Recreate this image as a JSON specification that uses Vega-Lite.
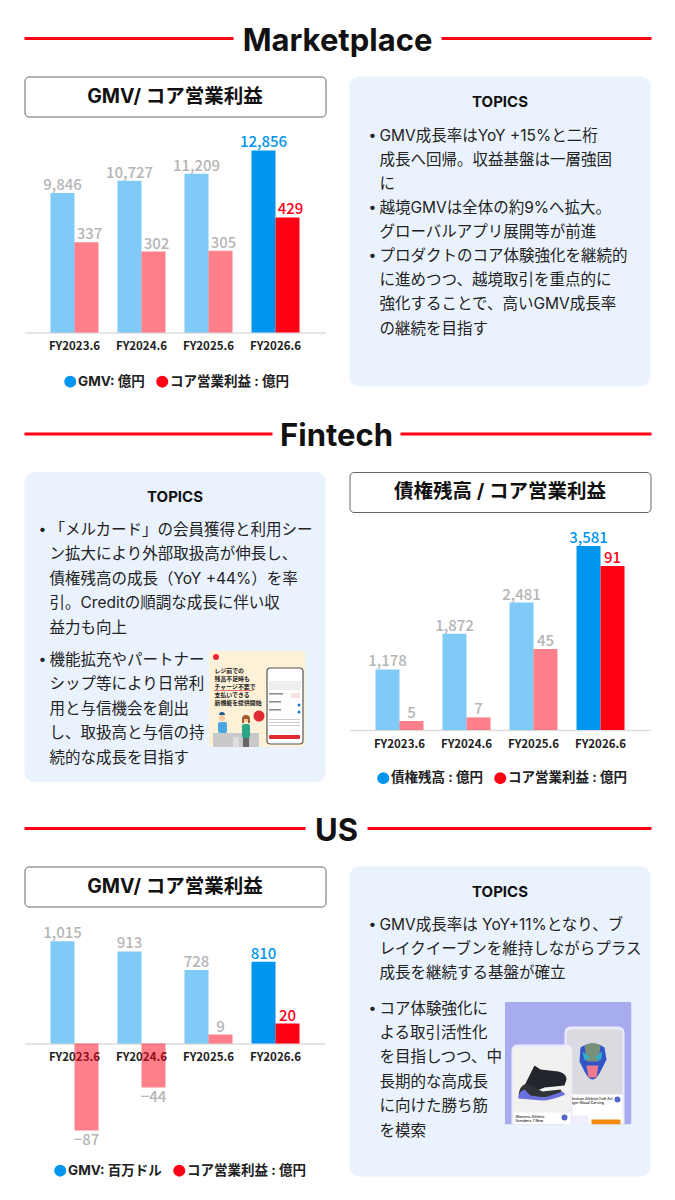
{
  "$schema": "https://vega.github.io/schema/vega-lite/v6.json",
  "background": "#ffffff",
  "padding": {"left": 22.5, "top": 18.5, "right": 0, "bottom": 0},
  "config": {
    "font": "Inter, Noto Sans CJK JP",
    "view": {"stroke": null},
    "legend": {"orient": "none", "direction": "horizontal", "title": null, "symbolType": "circle", "symbolSize": 144, "symbolStrokeWidth": 0, "labelFont": "Inter, Noto Sans CJK JP", "labelFontSize": 13.5, "labelFontWeight": 700, "labelColor": "#222222", "labelOffset": 1, "columnPadding": 10, "padding": 0},
    "axisX": {"title": null, "domainColor": "#dddddd", "domainWidth": 1.5, "ticks": false, "labelFont": "Noto Sans CJK JP", "labelFontSize": 11.5, "labelFontWeight": 700, "labelColor": "#222222", "labelAngle": 0, "labelPadding": 8, "zindex": 1}
  },
  "spacing": 23,
  "resolve": {"scale": {"color": "independent"}, "legend": {"color": "independent"}},
  "vconcat": [
    {
      "spacing": 25.5,
      "resolve": {"scale": {"color": "independent"}, "legend": {"color": "independent"}},
      "vconcat": [
        {
          "spacing": 17,
          "resolve": {"scale": {"color": "independent"}, "legend": {"color": "independent"}},
          "vconcat": [
            {
              "bounds": "flush",
              "spacing": 0,
              "data": {"values": [{"section": "Marketplace"}]},
              "hconcat": [
                {"width": 209, "height": 40, "mark": {"type": "rule", "color": "#ff0015", "strokeWidth": 3}, "encoding": {"y": {"datum": 0, "type": "quantitative", "scale": {"domain": [-1, 1]}, "axis": null}}},
                {"width": 208, "height": 40, "mark": {"type": "text", "fontSize": 31, "fontWeight": 700, "color": "#111111", "dy": 3}, "encoding": {"text": {"field": "section"}}},
                {"width": 210, "height": 40, "mark": {"type": "rule", "color": "#ff0015", "strokeWidth": 3}, "encoding": {"y": {"datum": 0, "type": "quantitative", "scale": {"domain": [-1, 1]}, "axis": null}}}
              ]
            },
            {
              "spacing": 23,
              "resolve": {"scale": {"color": "independent"}, "legend": {"color": "independent"}},
              "hconcat": [
                {
                  "bounds": "flush",
                  "spacing": 16,
                  "resolve": {"scale": {"color": "independent"}, "legend": {"color": "independent"}},
                  "vconcat": [
                    {
                      "width": 301, "height": 40,
                      "view": {"stroke": "#666666", "cornerRadius": 4, "fill": "#ffffff"},
                      "data": {"values": [{"label": "GMV/ コア営業利益"}]},
                      "mark": {"type": "text", "fontSize": 19.5, "fontWeight": 700, "color": "#111111"},
                      "encoding": {"text": {"field": "label"}}
                    },
                    {
                      "width": 301, "height": 200,
                      "data": {"values": [
                        {"fy": "FY2023.6", "metric": "GMV: 億円", "value": 9846},
                        {"fy": "FY2024.6", "metric": "GMV: 億円", "value": 10727},
                        {"fy": "FY2025.6", "metric": "GMV: 億円", "value": 11209},
                        {"fy": "FY2026.6", "metric": "GMV: 億円", "value": 12856},
                        {"fy": "FY2023.6", "metric": "コア営業利益 : 億円", "value": 337},
                        {"fy": "FY2024.6", "metric": "コア営業利益 : 億円", "value": 302},
                        {"fy": "FY2025.6", "metric": "コア営業利益 : 億円", "value": 305},
                        {"fy": "FY2026.6", "metric": "コア営業利益 : 億円", "value": 429}
                      ]},
                      "encoding": {
                        "x": {"field": "fy", "type": "nominal", "scale": {"paddingInner": 0, "paddingOuter": 0.246}}
                      },
                      "resolve": {"scale": {"y": "independent"}},
                      "layer": [
                        {
                          "transform": [{"filter": "datum.metric === 'GMV: 億円'"}],
                          "mark": {"type": "bar", "width": 24, "xOffset": -12},
                          "encoding": {
                            "y": {"field": "value", "type": "quantitative", "axis": null, "scale": {"domain": [0, 14127], "nice": false}},
                            "color": {"field": "metric", "type": "nominal", "scale": {"domain": ["GMV: 億円", "コア営業利益 : 億円"], "range": ["#0095ee", "#ff0015"]}, "legend": {"legendX": 39, "legendY": 242}},
                            "opacity": {"condition": {"test": "datum.fy === 'FY2026.6'", "value": 1}, "value": 0.5}
                          }
                        },
                        {
                          "transform": [{"filter": "datum.metric !== 'GMV: 億円'"}],
                          "mark": {"type": "bar", "width": 24, "xOffset": 12},
                          "encoding": {
                            "y": {"field": "value", "type": "quantitative", "axis": null, "scale": {"domain": [0, 746], "nice": false}},
                            "color": {"field": "metric", "type": "nominal", "scale": {"domain": ["GMV: 億円", "コア営業利益 : 億円"], "range": ["#0095ee", "#ff0015"]}, "legend": {"legendX": 39, "legendY": 242}},
                            "opacity": {"condition": {"test": "datum.fy === 'FY2026.6'", "value": 1}, "value": 0.5}
                          }
                        },
                        {
                          "transform": [{"filter": "datum.metric === 'GMV: 億円'"}],
                          "mark": {"type": "text", "font": "Noto Sans CJK JP", "baseline": "bottom", "fontSize": 15, "fontWeight": 500, "dy": 0, "xOffset": -12},
                          "encoding": {
                            "y": {"field": "value", "type": "quantitative", "axis": null, "scale": {"domain": [0, 14127], "nice": false}},
                            "text": {"field": "value", "type": "quantitative", "format": ","},
                            "color": {"condition": {"test": "datum.fy === 'FY2026.6'", "value": "#0095ee"}, "value": "#b5b5b5"}
                          }
                        },
                        {
                          "transform": [{"filter": "datum.metric !== 'GMV: 億円'"}],
                          "mark": {"type": "text", "font": "Noto Sans CJK JP", "baseline": "bottom", "fontSize": 15, "fontWeight": 500, "dy": 0, "xOffset": 15},
                          "encoding": {
                            "y": {"field": "value", "type": "quantitative", "axis": null, "scale": {"domain": [0, 746], "nice": false}},
                            "text": {"field": "value", "type": "quantitative", "format": ","},
                            "color": {"condition": {"test": "datum.fy === 'FY2026.6'", "value": "#ff0015"}, "value": "#b5b5b5"}
                          }
                        }
                      ]
                    }
                  ]
                },
                {
                  "width": 301, "height": 310,
                  "view": {"fill": "#eaf2fe", "cornerRadius": 10, "stroke": null},
                  "resolve": {"scale": {"x": "independent", "y": "independent"}},
                  "layer": [
                    {
                      "data": {"values": [{"label": "TOPICS"}]},
                      "mark": {"type": "text", "fontSize": 15, "fontWeight": 700, "color": "#111111"},
                      "encoding": {
                        "y": {"field": "label", "type": "nominal", "axis": null, "scale": {"type": "point", "domain": ["TOPICS"], "range": [25, 25]}},
                        "text": {"field": "label"}
                      }
                    },
                    {
                      "data": {"values": [
                        {"line": 1, "bullet": "•", "text": "GMV成長率はYoY +15%と二桁"},
                        {"line": 2, "bullet": "", "text": "成長へ回帰。収益基盤は一層強固"},
                        {"line": 3, "bullet": "", "text": "に"},
                        {"line": 4, "bullet": "•", "text": "越境GMVは全体の約9%へ拡大。"},
                        {"line": 5, "bullet": "", "text": "グローバルアプリ展開等が前進"},
                        {"line": 6, "bullet": "•", "text": "プロダクトのコア体験強化を継続的"},
                        {"line": 7, "bullet": "", "text": "に進めつつ、越境取引を重点的に"},
                        {"line": 8, "bullet": "", "text": "強化することで、高いGMV成長率"},
                        {"line": 9, "bullet": "", "text": "の継続を目指す"}
                      ]},
                      "resolve": {"scale": {"x": "independent"}},
                      "layer": [
                        {
                          "mark": {"type": "text", "align": "center", "fontSize": 14, "color": "#222222"},
                          "encoding": {
                            "x": {"datum": "bullet", "type": "nominal", "axis": null, "scale": {"type": "point", "domain": ["bullet"], "range": [23, 23]}},
                            "y": {"field": "line", "type": "ordinal", "axis": null, "scale": {"type": "point", "padding": 0, "range": [59, 252]}},
                            "text": {"field": "bullet"}
                          }
                        },
                        {
                          "mark": {"type": "text", "align": "left", "fontSize": 15.5, "color": "#222222"},
                          "encoding": {
                            "x": {"datum": "text", "type": "nominal", "axis": null, "scale": {"type": "point", "domain": ["text"], "range": [30, 30]}},
                            "y": {"field": "line", "type": "ordinal", "axis": null, "scale": {"type": "point", "padding": 0, "range": [59, 252]}},
                            "text": {"field": "text"}
                          }
                        }
                      ]
                    }
                  ]
                }
              ]
            }
          ]
        },
        {
          "spacing": 17,
          "resolve": {"scale": {"color": "independent"}, "legend": {"color": "independent"}},
          "vconcat": [
            {
              "bounds": "flush",
              "spacing": 0,
              "data": {"values": [{"section": "Fintech"}]},
              "hconcat": [
                {"width": 248, "height": 40, "mark": {"type": "rule", "color": "#ff0015", "strokeWidth": 3}, "encoding": {"y": {"datum": 0, "type": "quantitative", "scale": {"domain": [-1, 1]}, "axis": null}}},
                {"width": 128, "height": 40, "mark": {"type": "text", "fontSize": 31, "fontWeight": 700, "color": "#111111", "dy": 3}, "encoding": {"text": {"field": "section"}}},
                {"width": 251, "height": 40, "mark": {"type": "rule", "color": "#ff0015", "strokeWidth": 3}, "encoding": {"y": {"datum": 0, "type": "quantitative", "scale": {"domain": [-1, 1]}, "axis": null}}}
              ]
            },
            {
              "spacing": 23,
              "resolve": {"scale": {"color": "independent"}, "legend": {"color": "independent"}},
              "hconcat": [
                {
                  "width": 301, "height": 310,
                  "view": {"fill": "#eaf2fe", "cornerRadius": 10, "stroke": null},
                  "resolve": {"scale": {"x": "independent", "y": "independent"}},
                  "layer": [
                    {
                      "data": {"values": [{"label": "TOPICS"}]},
                      "mark": {"type": "text", "fontSize": 15, "fontWeight": 700, "color": "#111111"},
                      "encoding": {
                        "y": {"field": "label", "type": "nominal", "axis": null, "scale": {"type": "point", "domain": ["TOPICS"], "range": [25, 25]}},
                        "text": {"field": "label"}
                      }
                    },
                    {
                      "data": {"values": [
                        {"topic": 1, "bullet": "•", "text": "「メルカード」の会員獲得と利用シー\nン拡大により外部取扱高が伸長し、\n債権残高の成長（YoY +44%）を率\n引。Creditの順調な成長に伴い収\n益力も向上"},
                        {"topic": 2, "bullet": "•", "text": "機能拡充やパートナー\nシップ等により日常利\n用と与信機会を創出\nし、取扱高と与信の持\n続的な成長を目指す"}
                      ]},
                      "resolve": {"scale": {"x": "independent"}},
                      "layer": [
                        {
                          "mark": {"type": "text", "align": "center", "baseline": "top", "fontSize": 14, "color": "#222222"},
                          "encoding": {
                            "x": {"datum": "bullet", "type": "nominal", "axis": null, "scale": {"type": "point", "domain": ["bullet"], "range": [18, 18]}},
                            "y": {"field": "topic", "type": "ordinal", "axis": null, "scale": {"type": "point", "padding": 0, "range": [51, 181]}},
                            "text": {"field": "bullet"}
                          }
                        },
                        {
                          "mark": {"type": "text", "align": "left", "baseline": "top", "fontSize": 15.5, "lineBreak": "\n", "lineHeight": 24.4, "color": "#222222"},
                          "encoding": {
                            "x": {"datum": "text", "type": "nominal", "axis": null, "scale": {"type": "point", "domain": ["text"], "range": [25, 25]}},
                            "y": {"field": "topic", "type": "ordinal", "axis": null, "scale": {"type": "point", "padding": 0, "range": [51, 181]}},
                            "text": {"field": "text"}
                          }
                        }
                      ]
                    },
                    {
                      "data": {"values": [{"picture": "mercard", "url": "data:image/svg+xml;utf8,<svg xmlns='http://www.w3.org/2000/svg' viewBox='0 0 96 96' width='96' height='96'><rect width='96' height='96' rx='2' fill='%23fdf1d8'/><circle cx='7' cy='6' r='3' fill='%23ee2233'/><rect x='5' y='39' width='39' height='0.8' fill='%23e85050'/><rect x='4' y='82' width='46' height='14' fill='%23c9c9c9'/><rect x='24' y='86' width='6' height='10' fill='%23dddddd'/><circle cx='13' cy='67' r='3' fill='%23f4c7a0'/><path d='M10 64 a3 3 0 0 1 6 0 z' fill='%23225a88'/><rect x='9' y='71' width='9' height='11' rx='2' fill='%234aa6e0'/><circle cx='37' cy='68' r='3.2' fill='%23f4c7a0'/><path d='M33 68 a4 4 0 0 1 8 0 l0 4 l-2 0 l0 -4 l-4 0 l0 4 l-2 0 z' fill='%23a05a30'/><rect x='33' y='73' width='8' height='14' rx='2' fill='%232aa58a'/><rect x='34' y='87' width='6' height='9' fill='%23666666'/><circle cx='50' cy='65' r='5.5' fill='%23e22a33'/><rect x='58' y='17' width='36' height='76' rx='3.5' fill='%23ffffff' stroke='%23555555' stroke-width='1.2'/><rect x='60' y='30' width='32' height='9' fill='%23eeeeee'/><rect x='60' y='42' width='14' height='1.5' fill='%23888888'/><rect x='82' y='42' width='9' height='5' fill='%23fbe0e0'/><rect x='60' y='50' width='12' height='1.5' fill='%23888888'/><circle cx='90' cy='54' r='1.5' fill='%232277cc'/><rect x='60' y='58' width='12' height='1.5' fill='%23888888'/><circle cx='90' cy='61' r='1.5' fill='%232277cc'/><rect x='60' y='68' width='31' height='1' fill='%23cccccc'/><rect x='60' y='71' width='31' height='1' fill='%23cccccc'/><rect x='60' y='74' width='31' height='1' fill='%23cccccc'/><rect x='60' y='84' width='31' height='4' rx='1' fill='%23e22a33'/></svg>"}]},
                      "mark": {"type": "image", "width": 96, "height": 96, "aspect": false},
                      "encoding": {
                        "x": {"field": "picture", "type": "nominal", "axis": null, "scale": {"type": "point", "domain": ["mercard"], "range": [232.5, 232.5]}},
                        "y": {"field": "picture", "type": "nominal", "axis": null, "scale": {"type": "point", "domain": ["mercard"], "range": [227, 227]}},
                        "url": {"field": "url", "type": "nominal"}
                      }
                    },
                    {
                      "data": {"values": [{"caption": "レジ前での\n残高不足時も\nチャージ不要で\n支払いできる\n新機能を提供開始"}]},
                      "mark": {"type": "text", "align": "left", "baseline": "top", "fontSize": 5.9, "fontWeight": 700, "lineBreak": "\n", "lineHeight": 8.1, "color": "#222222"},
                      "encoding": {
                        "x": {"field": "caption", "type": "nominal", "axis": null, "scale": {"type": "point", "range": [190, 190]}},
                        "y": {"field": "caption", "type": "nominal", "axis": null, "scale": {"type": "point", "range": [195.5, 195.5]}},
                        "text": {"field": "caption"}
                      }
                    }
                  ]
                },
                {
                  "bounds": "flush",
                  "spacing": 16,
                  "resolve": {"scale": {"color": "independent"}, "legend": {"color": "independent"}},
                  "vconcat": [
                    {
                      "width": 301, "height": 40,
                      "view": {"stroke": "#666666", "cornerRadius": 4, "fill": "#ffffff"},
                      "data": {"values": [{"label": "債権残高 / コア営業利益"}]},
                      "mark": {"type": "text", "fontSize": 19.5, "fontWeight": 700, "color": "#111111"},
                      "encoding": {"text": {"field": "label"}}
                    },
                    {
                      "width": 301, "height": 202,
                      "data": {"values": [
                        {"fy": "FY2023.6", "metric": "債権残高 : 億円", "value": 1178},
                        {"fy": "FY2024.6", "metric": "債権残高 : 億円", "value": 1872},
                        {"fy": "FY2025.6", "metric": "債権残高 : 億円", "value": 2481},
                        {"fy": "FY2026.6", "metric": "債権残高 : 億円", "value": 3581},
                        {"fy": "FY2023.6", "metric": "コア営業利益 : 億円", "value": 5},
                        {"fy": "FY2024.6", "metric": "コア営業利益 : 億円", "value": 7},
                        {"fy": "FY2025.6", "metric": "コア営業利益 : 億円", "value": 45},
                        {"fy": "FY2026.6", "metric": "コア営業利益 : 億円", "value": 91}
                      ]},
                      "encoding": {
                        "x": {"field": "fy", "type": "nominal", "scale": {"paddingInner": 0, "paddingOuter": 0.246}}
                      },
                      "resolve": {"scale": {"y": "independent"}},
                      "layer": [
                        {
                          "transform": [{"filter": "datum.metric === '債権残高 : 億円'"}],
                          "mark": {"type": "bar", "width": 24, "xOffset": -12},
                          "encoding": {
                            "y": {"field": "value", "type": "quantitative", "axis": null, "scale": {"domain": [0, 3931], "nice": false}},
                            "color": {"field": "metric", "type": "nominal", "scale": {"domain": ["債権残高 : 億円", "コア営業利益 : 億円"], "range": ["#0095ee", "#ff0015"]}, "legend": {"legendX": 27, "legendY": 243}},
                            "opacity": {"condition": {"test": "datum.fy === 'FY2026.6'", "value": 1}, "value": 0.5}
                          }
                        },
                        {
                          "transform": [{"filter": "datum.metric !== '債権残高 : 億円'"}],
                          "mark": {"type": "bar", "width": 24, "xOffset": 12},
                          "encoding": {
                            "y": {"field": "value", "type": "quantitative", "axis": null, "scale": {"domain": [0, 112.1], "nice": false}},
                            "color": {"field": "metric", "type": "nominal", "scale": {"domain": ["債権残高 : 億円", "コア営業利益 : 億円"], "range": ["#0095ee", "#ff0015"]}, "legend": {"legendX": 27, "legendY": 243}},
                            "opacity": {"condition": {"test": "datum.fy === 'FY2026.6'", "value": 1}, "value": 0.5}
                          }
                        },
                        {
                          "transform": [{"filter": "datum.metric === '債権残高 : 億円'"}],
                          "mark": {"type": "text", "font": "Noto Sans CJK JP", "baseline": "bottom", "fontSize": 15, "fontWeight": 500, "dy": 0, "xOffset": -12},
                          "encoding": {
                            "y": {"field": "value", "type": "quantitative", "axis": null, "scale": {"domain": [0, 3931], "nice": false}},
                            "text": {"field": "value", "type": "quantitative", "format": ","},
                            "color": {"condition": {"test": "datum.fy === 'FY2026.6'", "value": "#0095ee"}, "value": "#b5b5b5"}
                          }
                        },
                        {
                          "transform": [{"filter": "datum.metric !== '債権残高 : 億円'"}],
                          "mark": {"type": "text", "font": "Noto Sans CJK JP", "baseline": "bottom", "fontSize": 15, "fontWeight": 500, "dy": 0, "xOffset": 12},
                          "encoding": {
                            "y": {"field": "value", "type": "quantitative", "axis": null, "scale": {"domain": [0, 112.1], "nice": false}},
                            "text": {"field": "value", "type": "quantitative", "format": ","},
                            "color": {"condition": {"test": "datum.fy === 'FY2026.6'", "value": "#ff0015"}, "value": "#b5b5b5"}
                          }
                        }
                      ]
                    }
                  ]
                }
              ]
            }
          ]
        }
      ]
    },
    {
      "spacing": 17,
      "resolve": {"scale": {"color": "independent"}, "legend": {"color": "independent"}},
      "vconcat": [
        {
          "bounds": "flush",
          "spacing": 0,
          "data": {"values": [{"section": "US"}]},
          "hconcat": [
            {"width": 281, "height": 40, "mark": {"type": "rule", "color": "#ff0015", "strokeWidth": 3}, "encoding": {"y": {"datum": 0, "type": "quantitative", "scale": {"domain": [-1, 1]}, "axis": null}}},
            {"width": 62, "height": 40, "mark": {"type": "text", "fontSize": 31, "fontWeight": 700, "color": "#111111", "dy": 3}, "encoding": {"text": {"field": "section"}}},
            {"width": 284, "height": 40, "mark": {"type": "rule", "color": "#ff0015", "strokeWidth": 3}, "encoding": {"y": {"datum": 0, "type": "quantitative", "scale": {"domain": [-1, 1]}, "axis": null}}}
          ]
        },
        {
          "spacing": 23,
          "resolve": {"scale": {"color": "independent"}, "legend": {"color": "independent"}},
          "hconcat": [
            {
              "bounds": "flush",
              "spacing": 16,
              "resolve": {"scale": {"color": "independent"}, "legend": {"color": "independent"}},
              "vconcat": [
                {
                  "width": 301, "height": 40,
                  "view": {"stroke": "#666666", "cornerRadius": 4, "fill": "#ffffff"},
                  "data": {"values": [{"label": "GMV/ コア営業利益"}]},
                  "mark": {"type": "text", "fontSize": 19.5, "fontWeight": 700, "color": "#111111"},
                  "encoding": {"text": {"field": "label"}}
                },
                {
                  "width": 301, "height": 218,
                  "data": {"values": [
                    {"fy": "FY2023.6", "metric": "GMV: 百万ドル", "value": 1015},
                    {"fy": "FY2024.6", "metric": "GMV: 百万ドル", "value": 913},
                    {"fy": "FY2025.6", "metric": "GMV: 百万ドル", "value": 728},
                    {"fy": "FY2026.6", "metric": "GMV: 百万ドル", "value": 810},
                    {"fy": "FY2023.6", "metric": "コア営業利益 : 億円", "value": -87},
                    {"fy": "FY2024.6", "metric": "コア営業利益 : 億円", "value": -44},
                    {"fy": "FY2025.6", "metric": "コア営業利益 : 億円", "value": 9},
                    {"fy": "FY2026.6", "metric": "コア営業利益 : 億円", "value": 20}
                  ]},
                  "encoding": {
                    "x": {"field": "fy", "type": "nominal", "axis": {"offset": -97}, "scale": {"paddingInner": 0, "paddingOuter": 0.246}}
                  },
                  "resolve": {"scale": {"y": "independent"}},
                  "layer": [
                    {
                      "transform": [{"filter": "datum.metric === 'GMV: 百万ドル'"}],
                      "mark": {"type": "bar", "width": 24, "xOffset": -12},
                      "encoding": {
                        "y": {"field": "value", "type": "quantitative", "axis": null, "scale": {"domain": [-962, 1200], "nice": false}},
                        "color": {"field": "metric", "type": "nominal", "scale": {"domain": ["GMV: 百万ドル", "コア営業利益 : 億円"], "range": ["#0095ee", "#ff0015"]}, "legend": {"legendX": 29, "legendY": 241}},
                        "opacity": {"condition": {"test": "datum.fy === 'FY2026.6'", "value": 1}, "value": 0.5}
                      }
                    },
                    {
                      "transform": [{"filter": "datum.metric !== 'GMV: 百万ドル'"}],
                      "mark": {"type": "bar", "width": 24, "xOffset": 12},
                      "encoding": {
                        "y": {"field": "value", "type": "quantitative", "axis": null, "scale": {"domain": [-97, 121], "nice": false}},
                        "color": {"field": "metric", "type": "nominal", "scale": {"domain": ["GMV: 百万ドル", "コア営業利益 : 億円"], "range": ["#0095ee", "#ff0015"]}, "legend": {"legendX": 29, "legendY": 241}},
                        "opacity": {"condition": {"test": "datum.fy === 'FY2026.6'", "value": 1}, "value": 0.5}
                      }
                    },
                    {
                      "transform": [{"filter": "datum.metric === 'GMV: 百万ドル'"}],
                      "mark": {"type": "text", "font": "Noto Sans CJK JP", "baseline": "bottom", "fontSize": 15, "fontWeight": 500, "dy": 0, "xOffset": -12},
                      "encoding": {
                        "y": {"field": "value", "type": "quantitative", "axis": null, "scale": {"domain": [-962, 1200], "nice": false}},
                        "text": {"field": "value", "type": "quantitative", "format": ","},
                        "color": {"condition": {"test": "datum.fy === 'FY2026.6'", "value": "#0095ee"}, "value": "#b5b5b5"}
                      }
                    },
                    {
                      "transform": [{"filter": "datum.metric !== 'GMV: 百万ドル' && datum.value > 0"}],
                      "mark": {"type": "text", "font": "Noto Sans CJK JP", "baseline": "bottom", "fontSize": 15, "fontWeight": 500, "dy": 0, "xOffset": 12},
                      "encoding": {
                        "y": {"field": "value", "type": "quantitative", "axis": null, "scale": {"domain": [-97, 121], "nice": false}},
                        "text": {"field": "value", "type": "quantitative", "format": ","},
                        "color": {"condition": {"test": "datum.fy === 'FY2026.6'", "value": "#ff0015"}, "value": "#b5b5b5"}
                      }
                    },
                    {
                      "transform": [{"filter": "datum.metric !== 'GMV: 百万ドル' && datum.value < 0"}],
                      "mark": {"type": "text", "font": "Noto Sans CJK JP", "baseline": "top", "fontSize": 15, "fontWeight": 500, "dy": 2, "color": "#b5b5b5", "xOffset": 12},
                      "encoding": {
                        "y": {"field": "value", "type": "quantitative", "axis": null, "scale": {"domain": [-97, 121], "nice": false}},
                        "text": {"field": "value", "type": "quantitative", "format": ","}
                      }
                    }
                  ]
                }
              ]
            },
            {
              "width": 301, "height": 310,
              "view": {"fill": "#eaf2fe", "cornerRadius": 10, "stroke": null},
              "resolve": {"scale": {"x": "independent", "y": "independent"}},
              "layer": [
                {
                  "data": {"values": [{"label": "TOPICS"}]},
                  "mark": {"type": "text", "fontSize": 15, "fontWeight": 700, "color": "#111111"},
                  "encoding": {
                    "y": {"field": "label", "type": "nominal", "axis": null, "scale": {"type": "point", "domain": ["TOPICS"], "range": [25, 25]}},
                    "text": {"field": "label"}
                  }
                },
                {
                  "data": {"values": [
                    {"topic": 1, "bullet": "•", "text": "GMV成長率は YoY+11%となり、ブ\nレイクイーブンを維持しながらプラス\n成長を継続する基盤が確立"},
                    {"topic": 2, "bullet": "•", "text": "コア体験強化に\nよる取引活性化\nを目指しつつ、中\n長期的な高成長\nに向けた勝ち筋\nを模索"}
                  ]},
                  "resolve": {"scale": {"x": "independent"}},
                  "layer": [
                    {
                      "mark": {"type": "text", "align": "center", "baseline": "top", "fontSize": 14, "color": "#222222"},
                      "encoding": {
                        "x": {"datum": "bullet", "type": "nominal", "axis": null, "scale": {"type": "point", "domain": ["bullet"], "range": [23, 23]}},
                        "y": {"field": "topic", "type": "ordinal", "axis": null, "scale": {"type": "point", "padding": 0, "range": [51, 135]}},
                        "text": {"field": "bullet"}
                      }
                    },
                    {
                      "mark": {"type": "text", "align": "left", "baseline": "top", "fontSize": 15.5, "lineBreak": "\n", "lineHeight": 24.4, "color": "#222222"},
                      "encoding": {
                        "x": {"datum": "text", "type": "nominal", "axis": null, "scale": {"type": "point", "domain": ["text"], "range": [30, 30]}},
                        "y": {"field": "topic", "type": "ordinal", "axis": null, "scale": {"type": "point", "padding": 0, "range": [51, 135]}},
                        "text": {"field": "text"}
                      }
                    }
                  ]
                },
                {
                  "data": {"values": [{"picture": "listing", "url": "data:image/svg+xml;utf8,<svg xmlns='http://www.w3.org/2000/svg' viewBox='0 0 127 123' width='127' height='123'><rect width='127' height='123' rx='2' fill='%23a7acee'/><path d='M60 123 V31 a6 6 0 0 1 6 -6 h48 a6 6 0 0 1 6 6 V123 z' fill='%23ecebfb'/><path d='M62 93 V32 a4 4 0 0 1 4 -4 h48 a4 4 0 0 1 4 4 V93 z' fill='%23d9dbe0'/><rect x='62' y='93' width='56' height='30' fill='%23ffffff'/><path d='M76 46 q12 -8 24 0 l2 12 l-6 12 q-4 8 -8 8 q-4 0 -8 -8 l-5 -10 z' fill='%232f55c8'/><path d='M80 44 q8 -5 16 0 l-2 16 h-12 z' fill='%2378907a'/><path d='M78 50 l8 6 l-6 3 z M98 50 l-8 6 l6 3 z' fill='%2332b0c8'/><path d='M82 64 h12 l-2 12 h-8 z' fill='%23ee7a90'/><circle cx='113' cy='98' r='3' fill='%235566cc'/><rect x='66' y='114' width='18' height='9' fill='%23eeeefc'/><rect x='87' y='118' width='29' height='5' fill='%23f58a07'/><path d='M7 123 V49 a6 6 0 0 1 6 -6 h49 a6 6 0 0 1 6 6 V123 z' fill='%23ecebfb'/><path d='M9 111 V50 a4 4 0 0 1 4 -4 h49 a4 4 0 0 1 4 4 V111 z' fill='%23f1f1f0'/><rect x='9' y='111' width='57' height='12' fill='%23ffffff'/><path d='M20 84 l10 -20 l6 4 l18 2 q8 2 8 8 l-2 6 l-20 2 l-10 4 z' fill='%2322252b'/><path d='M14 96 q0 -12 8 -14 l16 8 l18 -2 l2 4 q-10 4 -20 4 z' fill='%23303338'/><path d='M14 97 q0 -7 6 -9 l6 6 l14 2 l18 -6 l3 3 q-14 6 -24 6 z' fill='%236a70dd'/><circle cx='60' cy='116' r='3' fill='%235566cc'/></svg>"}]},
                  "mark": {"type": "image", "width": 127, "height": 123, "aspect": false},
                  "encoding": {
                    "x": {"field": "picture", "type": "nominal", "axis": null, "scale": {"type": "point", "domain": ["listing"], "range": [218.5, 218.5]}},
                    "y": {"field": "picture", "type": "nominal", "axis": null, "scale": {"type": "point", "domain": ["listing"], "range": [196.5, 196.5]}},
                    "url": {"field": "url", "type": "nominal"}
                  }
                },
                {
                  "data": {"values": [{"caption": "Womens Athletic\nSneakers 7 New"}, {"caption": "lexican Alebrije Folk Art\niger Wood Carving"}]},
                  "mark": {"type": "text", "align": "left", "baseline": "top", "fontSize": 3.6, "fontWeight": 500, "lineBreak": "\n", "lineHeight": 4.6, "color": "#222222"},
                  "encoding": {
                    "x": {"field": "caption", "type": "nominal", "axis": null, "scale": {"type": "point", "padding": 0, "domain": ["Womens Athletic\nSneakers 7 New", "lexican Alebrije Folk Art\niger Wood Carving"], "range": [166, 222.5]}},
                    "y": {"field": "caption", "type": "nominal", "axis": null, "scale": {"type": "point", "padding": 0, "domain": ["Womens Athletic\nSneakers 7 New", "lexican Alebrije Folk Art\niger Wood Carving"], "range": [248, 230]}},
                    "text": {"field": "caption"}
                  }
                }
              ]
            }
          ]
        }
      ]
    }
  ]
}
